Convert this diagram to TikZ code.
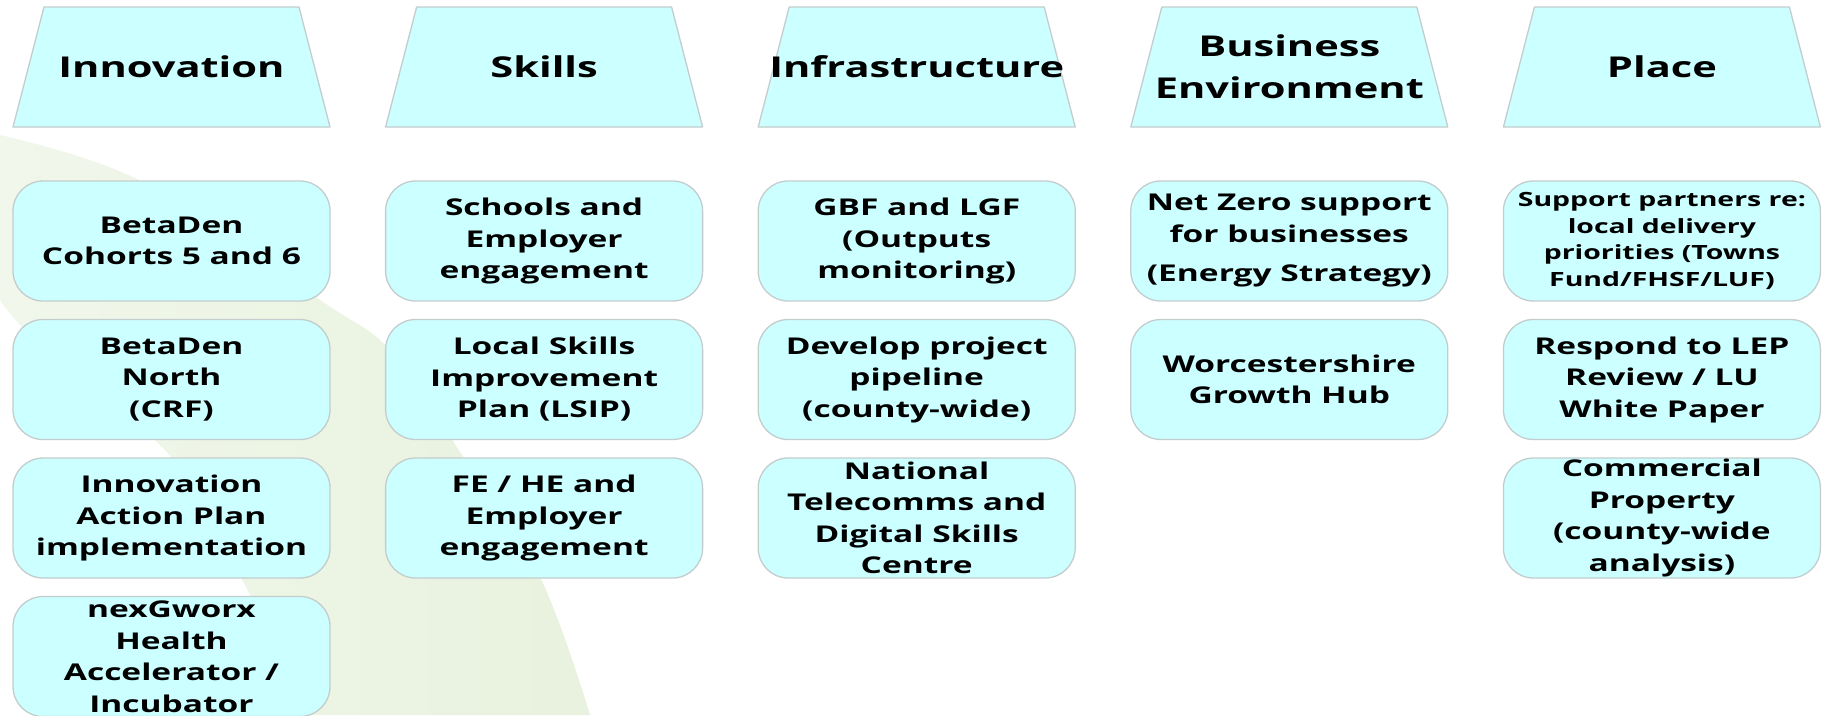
\documentclass[tikz,border=0pt]{standalone}
\usepackage{fontspec}
\setmainfont{Open Sans}[FakeStretch=1.45]
\definecolor{boxcyan}{RGB}{204,255,255}
\definecolor{edgegrey}{RGB}{195,205,205}
\definecolor{swooshA}{RGB}{241,247,235}
\definecolor{swooshB}{RGB}{232,242,222}
\tikzset{
  hdrshape/.style={fill=boxcyan, draw=edgegrey, line width=1.3pt, line join=round},
  hdrtext/.style={font=\fontsize{28.7}{42}\selectfont\bfseries, align=center, inner sep=0pt},
  boxshape/.style={rectangle, rounded corners=30pt, fill=boxcyan, draw=edgegrey, line width=1.3pt,
    minimum width=317pt, minimum height=120pt, inner sep=0pt},
  boxtext/.style={font=\fontsize{23.1}{31.5}\selectfont\bfseries, align=center, inner sep=0pt},
  smalltext/.style={font=\fontsize{19.6}{26.4}\selectfont\bfseries, align=center, inner sep=0pt}
}
\begin{document}
\begin{tikzpicture}[x=1pt,y=-1pt]
\useasboundingbox (0,0) rectangle (1825,715);
\fill[white] (0,0) rectangle (1825,715);
% background swoosh
\shade[left color=swooshA, right color=swooshB]
  plot[smooth, tension=0.6] coordinates {(0,135) (143,182) (320,300) (392,352) (462,455) (540,577) (590,715)}
  -- plot[smooth, tension=0.6] coordinates {(305,715) (245,585) (172,458) (40,345) (0,300)}
  -- cycle;
% headers
\foreach \i/\name in {0/h1,1/h2,2/h3,3/h4,4/h5}{
  \pgfmathsetmacro{\L}{13+372.6*\i}
  \draw[hdrshape] (\L,127) -- (\L+31,7) -- (\L+286,7) -- (\L+317,127) -- cycle;
  \coordinate (\name) at (\L+158.5,67);
}
\node[hdrtext] (t1) at (h1) {Innovation};
\node[hdrtext] (t2) at (h2) {Skills};
\node[hdrtext] (t3) at (h3) {Infrastructure};
\node[hdrtext] (t4) at (h4) {Business\\Environment};
\node[hdrtext] (t5) at (h5) {Place};
% boxes
\foreach \i/\j/\name in {0/0/a1,0/1/a2,0/2/a3,0/3/a4,
                        1/0/b1,1/1/b2,1/2/b3,
                        2/0/c1,2/1/c2,2/2/c3,
                        3/0/d1,3/1/d2,
                        4/0/e1,4/1/e2,4/2/e3}{
  \node[boxshape] (\name) at (171.5+372.6*\i, 241+138.5*\j) {};
}
\node[boxtext] at (a1) {BetaDen\\Cohorts 5 and 6};
\node[boxtext] at (a2) {BetaDen\\North\\(CRF)};
\node[boxtext] at (a3) {Innovation\\Action Plan\\implementation};
\node[boxtext] at (a4) {nexGworx\\Health\\Accelerator /\\Incubator};
\node[boxtext] at (b1) {Schools and\\Employer\\engagement};
\node[boxtext] at (b2) {Local Skills\\Improvement\\Plan (LSIP)};
\node[boxtext] at (b3) {FE / HE and\\Employer\\engagement};
\node[boxtext] at (c1) {GBF and LGF\\(Outputs\\monitoring)};
\node[boxtext] at (c2) {Develop project\\pipeline\\(county-wide)};
\node[boxtext] at (c3) {National\\Telecomms and\\Digital Skills\\Centre};
\node[boxtext] at (d1) {Net Zero support\\for businesses\\[8pt](Energy Strategy)};
\node[boxtext] at (d2) {Worcestershire\\Growth Hub};
\node[smalltext] at (e1) {Support partners re:\\local delivery\\priorities (Towns\\Fund/FHSF/LUF)};
\node[boxtext] at (e2) {Respond to LEP\\Review / LU\\White Paper};
\node[boxtext] at (e3) {Commercial\\Property\\(county-wide\\analysis)};
\end{tikzpicture}
\end{document}
